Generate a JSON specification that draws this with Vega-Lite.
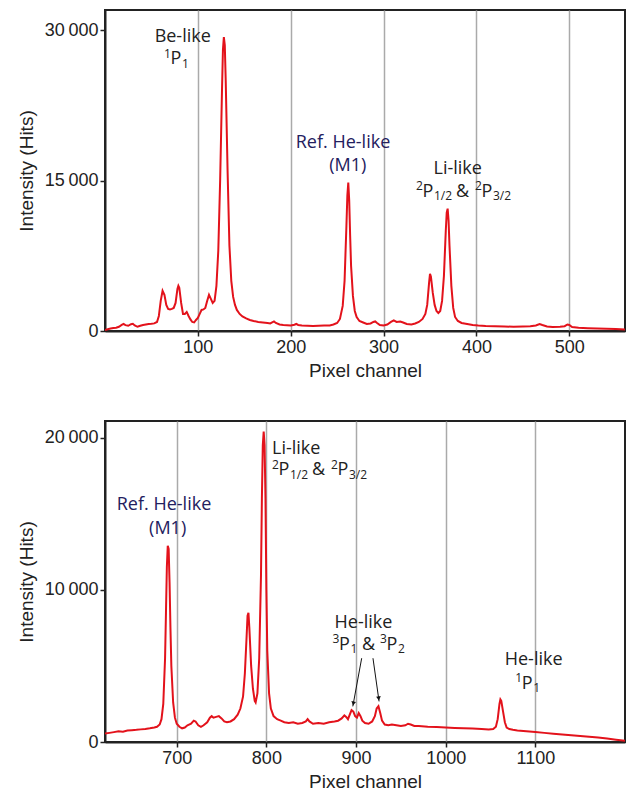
{
  "$schema": "https://vega.github.io/schema/vega-lite/v6.json",
  "padding": {"left": 16, "top": 9, "right": 8, "bottom": 5},
  "autosize": {"type": "pad"},
  "background": "white",
  "spacing": 39,
  "config": {
    "view": {"stroke": "#222", "strokeWidth": 2},
    "axis": {
      "domainColor": "#222", "domainWidth": 2,
      "tickColor": "#222", "tickWidth": 1.5, "tickSize": 5,
      "labelFont": "Liberation Sans", "labelFontSize": 18, "labelColor": "#222", "labelPadding": 2,
      "titleFont": "Liberation Sans", "titleFontSize": 19, "titleFontWeight": "normal", "titleColor": "#222",
      "gridColor": "#aaaaaa", "gridWidth": 1.5, "gridOpacity": 1
    }
  },
  "datasets": {
    "top": [
      {"x":0,"y":100},{"x":3,"y":180},{"x":6,"y":250},{"x":9,"y":300},{"x":12,"y":320},{"x":15,"y":420},{"x":18,"y":600},{"x":20,"y":700},{"x":22,"y":580},{"x":25,"y":520},{"x":28,"y":680},{"x":30,"y":720},{"x":32,"y":560},{"x":35,"y":420},{"x":38,"y":520},{"x":41,"y":600},{"x":44,"y":650},{"x":47,"y":700},{"x":50,"y":720},{"x":53,"y":760},{"x":56,"y":900},{"x":58,"y":1500},{"x":60,"y":3000},{"x":62,"y":4000},{"x":64,"y":3600},{"x":66,"y":2600},{"x":68,"y":2200},{"x":70,"y":2150},{"x":72,"y":2200},{"x":74,"y":2300},{"x":76,"y":2800},{"x":78,"y":4200},{"x":79,"y":4500},{"x":80,"y":4300},{"x":82,"y":2800},{"x":84,"y":1700},{"x":86,"y":1700},{"x":88,"y":1900},{"x":90,"y":1500},{"x":92,"y":1150},{"x":94,"y":900},{"x":96,"y":850},{"x":98,"y":1100},{"x":100,"y":1300},{"x":102,"y":1700},{"x":104,"y":2100},{"x":106,"y":2150},{"x":108,"y":2300},{"x":110,"y":3000},{"x":112,"y":3600},{"x":114,"y":3200},{"x":116,"y":2800},{"x":118,"y":3000},{"x":120,"y":4500},{"x":122,"y":8000},{"x":124,"y":15000},{"x":126,"y":24000},{"x":127,"y":28000},{"x":128,"y":29300},{"x":129,"y":28500},{"x":130,"y":25000},{"x":132,"y":16000},{"x":134,"y":8500},{"x":136,"y":5000},{"x":138,"y":3400},{"x":140,"y":2600},{"x":142,"y":2100},{"x":145,"y":1700},{"x":148,"y":1450},{"x":152,"y":1250},{"x":156,"y":1100},{"x":160,"y":1000},{"x":165,"y":900},{"x":170,"y":850},{"x":175,"y":800},{"x":178,"y":750},{"x":180,"y":850},{"x":182,"y":950},{"x":184,"y":800},{"x":188,"y":650},{"x":192,"y":600},{"x":196,"y":580},{"x":200,"y":560},{"x":204,"y":620},{"x":206,"y":700},{"x":208,"y":600},{"x":212,"y":550},{"x":218,"y":530},{"x":224,"y":500},{"x":230,"y":520},{"x":236,"y":540},{"x":242,"y":560},{"x":246,"y":650},{"x":250,"y":800},{"x":253,"y":1200},{"x":256,"y":2500},{"x":258,"y":5000},{"x":260,"y":10500},{"x":261,"y":13500},{"x":262,"y":14800},{"x":263,"y":13000},{"x":264,"y":9500},{"x":265,"y":6500},{"x":267,"y":3500},{"x":269,"y":2000},{"x":271,"y":1400},{"x":274,"y":1000},{"x":278,"y":850},{"x":282,"y":700},{"x":286,"y":750},{"x":289,"y":900},{"x":291,"y":950},{"x":293,"y":800},{"x":296,"y":600},{"x":300,"y":550},{"x":304,"y":650},{"x":308,"y":900},{"x":311,"y":1050},{"x":314,"y":900},{"x":318,"y":950},{"x":321,"y":850},{"x":325,"y":700},{"x":330,"y":650},{"x":334,"y":750},{"x":338,"y":900},{"x":342,"y":1200},{"x":345,"y":1700},{"x":347,"y":2600},{"x":349,"y":4800},{"x":350,"y":5700},{"x":351,"y":5400},{"x":353,"y":3800},{"x":355,"y":2600},{"x":357,"y":2000},{"x":359,"y":1800},{"x":361,"y":2000},{"x":363,"y":3000},{"x":365,"y":5500},{"x":367,"y":10000},{"x":368,"y":11800},{"x":369,"y":12200},{"x":370,"y":11000},{"x":371,"y":8500},{"x":373,"y":4500},{"x":375,"y":2300},{"x":377,"y":1400},{"x":380,"y":1000},{"x":384,"y":800},{"x":390,"y":700},{"x":396,"y":600},{"x":402,"y":550},{"x":410,"y":500},{"x":420,"y":470},{"x":430,"y":450},{"x":440,"y":420},{"x":450,"y":450},{"x":458,"y":480},{"x":464,"y":550},{"x":468,"y":700},{"x":471,"y":600},{"x":476,"y":450},{"x":482,"y":400},{"x":490,"y":420},{"x":495,"y":480},{"x":498,"y":650},{"x":500,"y":600},{"x":503,"y":400},{"x":510,"y":320},{"x":520,"y":280},{"x":530,"y":250},{"x":540,"y":220},{"x":550,"y":200},{"x":560,"y":150}
    ],
    "bottom": [
      {"x":620,"y":550},{"x":625,"y":600},{"x":630,"y":650},{"x":635,"y":700},{"x":640,"y":680},{"x":645,"y":760},{"x":650,"y":780},{"x":655,"y":800},{"x":660,"y":830},{"x":665,"y":860},{"x":670,"y":900},{"x":675,"y":950},{"x":678,"y":1000},{"x":681,"y":1150},{"x":683,"y":1500},{"x":685,"y":2500},{"x":687,"y":5500},{"x":688,"y":8500},{"x":689,"y":11500},{"x":690,"y":12900},{"x":691,"y":12700},{"x":692,"y":10500},{"x":693,"y":7500},{"x":694,"y":5000},{"x":696,"y":2600},{"x":698,"y":1600},{"x":700,"y":1200},{"x":703,"y":1000},{"x":706,"y":900},{"x":709,"y":950},{"x":712,"y":1100},{"x":716,"y":1200},{"x":719,"y":1400},{"x":721,"y":1350},{"x":724,"y":1100},{"x":727,"y":1000},{"x":730,"y":1100},{"x":734,"y":1300},{"x":737,"y":1600},{"x":739,"y":1700},{"x":741,"y":1600},{"x":744,"y":1650},{"x":747,"y":1700},{"x":750,"y":1550},{"x":753,"y":1350},{"x":756,"y":1300},{"x":760,"y":1350},{"x":764,"y":1500},{"x":768,"y":1800},{"x":771,"y":2200},{"x":774,"y":3000},{"x":776,"y":4500},{"x":778,"y":7000},{"x":779,"y":8300},{"x":780,"y":8500},{"x":781,"y":7500},{"x":783,"y":5000},{"x":785,"y":3500},{"x":787,"y":2700},{"x":788,"y":2600},{"x":790,"y":3200},{"x":792,"y":5500},{"x":794,"y":11000},{"x":795,"y":16000},{"x":796,"y":19500},{"x":797,"y":20400},{"x":798,"y":19500},{"x":799,"y":16000},{"x":800,"y":10000},{"x":801,"y":6000},{"x":803,"y":3200},{"x":805,"y":2200},{"x":808,"y":1700},{"x":812,"y":1500},{"x":816,"y":1400},{"x":820,"y":1300},{"x":825,"y":1250},{"x":830,"y":1300},{"x":835,"y":1200},{"x":840,"y":1250},{"x":844,"y":1350},{"x":846,"y":1500},{"x":848,"y":1350},{"x":852,"y":1200},{"x":858,"y":1250},{"x":864,"y":1200},{"x":870,"y":1300},{"x":876,"y":1350},{"x":880,"y":1400},{"x":884,"y":1550},{"x":887,"y":1750},{"x":889,"y":1650},{"x":891,"y":1500},{"x":893,"y":1800},{"x":895,"y":2100},{"x":897,"y":2000},{"x":899,"y":1700},{"x":901,"y":1600},{"x":903,"y":1900},{"x":905,"y":1700},{"x":907,"y":1400},{"x":910,"y":1250},{"x":914,"y":1200},{"x":918,"y":1350},{"x":921,"y":1700},{"x":923,"y":2200},{"x":925,"y":2350},{"x":927,"y":1900},{"x":929,"y":1400},{"x":932,"y":1150},{"x":936,"y":1100},{"x":940,"y":1150},{"x":945,"y":1100},{"x":950,"y":1050},{"x":955,"y":1100},{"x":958,"y":1200},{"x":961,"y":1150},{"x":965,"y":1050},{"x":970,"y":1050},{"x":980,"y":1000},{"x":990,"y":980},{"x":1000,"y":950},{"x":1010,"y":920},{"x":1020,"y":900},{"x":1030,"y":880},{"x":1040,"y":850},{"x":1048,"y":820},{"x":1053,"y":850},{"x":1056,"y":1000},{"x":1058,"y":1500},{"x":1060,"y":2500},{"x":1061,"y":2800},{"x":1062,"y":2700},{"x":1064,"y":2000},{"x":1066,"y":1300},{"x":1068,"y":950},{"x":1071,"y":850},{"x":1075,"y":800},{"x":1080,"y":760},{"x":1090,"y":700},{"x":1100,"y":650},{"x":1110,"y":600},{"x":1120,"y":550},{"x":1130,"y":500},{"x":1140,"y":450},{"x":1150,"y":400},{"x":1160,"y":350},{"x":1170,"y":300},{"x":1180,"y":230},{"x":1190,"y":150},{"x":1200,"y":80}
    ],
    "topCenter": [
      {"x":83.7,"y":28840,"t":"Be-like"},
      {"x":379.8,"y":15669,"t":"Li-like"}
    ],
    "topNavy": [
      {"x":256.3,"y":18263,"t":"Ref. He-like"},
      {"x":261.4,"y":15998,"t":"(M1)"}
    ],
    "topLeft": [
      {"x":70.5,"y":26647,"t":"P"},
      {"x":341.9,"y":13403,"t":"P"},
      {"x":378.0,"y":13403,"t":"&"},
      {"x":405.4,"y":13403,"t":"P"}
    ],
    "topScript": [
      {"x":63.5,"y":27245,"t":"1"},
      {"x":82.9,"y":26247,"t":"1"},
      {"x":334.9,"y":14072,"t":"2"},
      {"x":354.3,"y":13074,"t":"1/2"},
      {"x":398.4,"y":14072,"t":"2"},
      {"x":417.8,"y":13074,"t":"3/2"}
    ],
    "botNavy": [
      {"x":685.8,"y":15232,"t":"Ref. He-like"},
      {"x":689.9,"y":13704,"t":"(M1)"}
    ],
    "botCenter": [
      {"x":908.3,"y":7521,"t":"He-like"},
      {"x":1098.1,"y":5029,"t":"He-like"}
    ],
    "botLeft": [
      {"x":806.3,"y":18904,"t":"Li-like"},
      {"x":813.5,"y":17527,"t":"P"},
      {"x":850.9,"y":17527,"t":"&"},
      {"x":879.3,"y":17527,"t":"P"},
      {"x":880.9,"y":6052,"t":"P"},
      {"x":906.6,"y":6052,"t":"&"},
      {"x":933.9,"y":6052,"t":"P"},
      {"x":1084.8,"y":3495,"t":"P"}
    ],
    "botScript": [
      {"x":806.3,"y":17966,"t":"2"},
      {"x":826.3,"y":17310,"t":"1/2"},
      {"x":872.1,"y":17966,"t":"2"},
      {"x":892.1,"y":17310,"t":"3/2"},
      {"x":873.8,"y":6491,"t":"3"},
      {"x":893.8,"y":5836,"t":"1"},
      {"x":926.7,"y":6491,"t":"3"},
      {"x":946.8,"y":5836,"t":"2"},
      {"x":1077.6,"y":3934,"t":"1"},
      {"x":1097.6,"y":3279,"t":"1"}
    ],
    "arrows": [
      {"x":906.3,"y":5508,"x2":896.4,"y2":2341},
      {"x":918.9,"y":5508,"x2":925.7,"y2":2669}
    ],
    "head1": [{"x":897.0,"y":2531}],
    "head2": [{"x":925.3,"y":2865}]
  },
  "vconcat": [
    {
      "width": 520,
      "height": 321,
      "encoding": {
        "x": {"field": "x", "type": "quantitative",
              "scale": {"domain": [0, 560], "nice": false, "zero": false},
              "axis": {"values": [100, 200, 300, 400, 500], "grid": true, "title": "Pixel channel", "titlePadding": 5, "format": "d"}},
        "y": {"field": "y", "type": "quantitative",
              "scale": {"domain": [0, 32000], "nice": false},
              "axis": {"values": [0, 15000, 30000], "grid": false, "title": "Intensity (Hits)", "titlePadding": 8,
                       "labelExpr": "datum.value == 0 ? '0' : replace(format(datum.value, ','), ',', '\u2009')"}}
      },
      "layer": [
        {"data": {"name": "top"}, "mark": {"type": "line", "color": "#e3121b", "strokeWidth": 2, "clip": true}},
        {"data": {"name": "topCenter"}, "mark": {"type": "text", "font": "Open Sans", "fontSize": 18, "fill": "#222", "align": "center", "baseline": "alphabetic"}, "encoding": {"text": {"field": "t"}}},
        {"data": {"name": "topNavy"}, "mark": {"type": "text", "font": "Open Sans", "fontSize": 18, "fill": "#23205e", "align": "center", "baseline": "alphabetic"}, "encoding": {"text": {"field": "t"}}},
        {"data": {"name": "topLeft"}, "mark": {"type": "text", "font": "Open Sans", "fontSize": 18, "fill": "#222", "align": "left", "baseline": "alphabetic"}, "encoding": {"text": {"field": "t"}}},
        {"data": {"name": "topScript"}, "mark": {"type": "text", "font": "Open Sans", "fontSize": 12, "fill": "#222", "align": "left", "baseline": "alphabetic"}, "encoding": {"text": {"field": "t"}}}
      ]
    },
    {
      "width": 520,
      "height": 321,
      "encoding": {
        "x": {"field": "x", "type": "quantitative",
              "scale": {"domain": [620, 1200], "nice": false, "zero": false},
              "axis": {"values": [700, 800, 900, 1000, 1100], "grid": true, "title": "Pixel channel", "titlePadding": 5, "format": "d"}},
        "y": {"field": "y", "type": "quantitative",
              "scale": {"domain": [0, 21100], "nice": false},
              "axis": {"values": [0, 10000, 20000], "grid": false, "title": "Intensity (Hits)", "titlePadding": 8,
                       "labelExpr": "datum.value == 0 ? '0' : replace(format(datum.value, ','), ',', '\u2009')"}}
      },
      "layer": [
        {"data": {"name": "bottom"}, "mark": {"type": "line", "color": "#e3121b", "strokeWidth": 2, "clip": true}},
        {"data": {"name": "botNavy"}, "mark": {"type": "text", "font": "Open Sans", "fontSize": 18, "fill": "#23205e", "align": "center", "baseline": "alphabetic"}, "encoding": {"text": {"field": "t"}}},
        {"data": {"name": "botCenter"}, "mark": {"type": "text", "font": "Open Sans", "fontSize": 18, "fill": "#222", "align": "center", "baseline": "alphabetic"}, "encoding": {"text": {"field": "t"}}},
        {"data": {"name": "botLeft"}, "mark": {"type": "text", "font": "Open Sans", "fontSize": 18, "fill": "#222", "align": "left", "baseline": "alphabetic"}, "encoding": {"text": {"field": "t"}}},
        {"data": {"name": "botScript"}, "mark": {"type": "text", "font": "Open Sans", "fontSize": 12, "fill": "#222", "align": "left", "baseline": "alphabetic"}, "encoding": {"text": {"field": "t"}}},
        {"data": {"name": "arrows"}, "mark": {"type": "rule", "color": "#111", "strokeWidth": 1}, "encoding": {"x2": {"field": "x2"}, "y2": {"field": "y2"}}},
        {"data": {"name": "head1"}, "mark": {"type": "point", "shape": "triangle-down", "filled": true, "color": "#111", "size": 22, "angle": 10, "opacity": 1}},
        {"data": {"name": "head2"}, "mark": {"type": "point", "shape": "triangle-down", "filled": true, "color": "#111", "size": 22, "angle": -8, "opacity": 1}}
      ]
    }
  ]
}
